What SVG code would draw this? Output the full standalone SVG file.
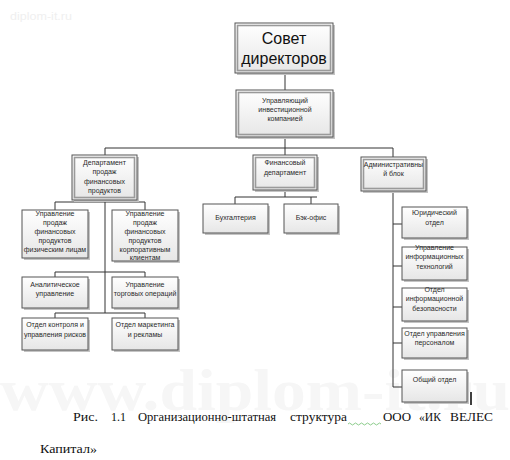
<svg xmlns="http://www.w3.org/2000/svg" width="510" height="460" viewBox="0 0 510 460">
<defs>
<linearGradient id="g" x1="0" y1="0" x2="0" y2="1">
<stop offset="0" stop-color="#ffffff"/>
<stop offset="1" stop-color="#e6e6e6"/>
</linearGradient>
<style>
.b{fill:url(#g);stroke:#555;stroke-width:1}
.sh{fill:#c4c4c4}
.in{fill:none;stroke:#9a9a9a;stroke-width:1.6}
.t{font-family:"Liberation Sans",Arial,sans-serif;font-size:7px;fill:#2a2a2a;text-anchor:middle}
.big{font-family:"Liberation Sans",Arial,sans-serif;font-size:16px;fill:#111;text-anchor:middle}
.cap{font-family:"Liberation Serif","Times New Roman",serif;font-size:13.5px;fill:#111}
.wm{font-family:"Liberation Serif",serif;font-weight:bold;fill:#f6f6f6}
.c{fill:none;stroke:#333;stroke-width:1}
</style>
</defs>
<rect width="510" height="460" fill="#fff"/>
<text class="wm" x="0" y="410" font-size="60" textLength="510" lengthAdjust="spacingAndGlyphs">www.diplom-it.ru</text>
<text x="10" y="20" font-family="Liberation Sans Narrow,Liberation Sans,sans-serif" font-size="11" fill="#efefef" textLength="62" lengthAdjust="spacingAndGlyphs">diplom-it.ru</text>

<g id="connectors">
<path class="c" d="M285 73V90M285 137V148M105 148H393M105 148V155M285 148V155M393 148V157"/>
<path class="c" d="M105 200V313M55 202H145M55 202V210M145 202V210M55 272H145M55 272V277M145 272V277M55 313H145M55 313V318M145 313V318"/>
<path class="c" d="M285 190V197M235 197H317M235 197V204M311 197V204"/>
<path class="c" d="M393 191V387M393 224H402M393 266H402M393 307H402M393 343H402M393 387H402"/>
</g>

<g id="n-board">
<rect class="sh" x="237" y="25" width="98" height="50"/>
<rect class="b" x="235" y="23" width="98" height="50"/>
<rect class="in" x="237.5" y="25.5" width="93" height="45"/>
<text class="big" x="284" y="44">Совет</text>
<text class="big" x="284" y="64">директоров</text>
</g>

<g id="n-ceo">
<rect class="sh" x="238" y="92" width="97" height="47"/>
<rect class="b" x="236" y="90" width="97" height="47"/>
<rect class="in" x="238.5" y="92.5" width="92" height="42"/>
<text class="t" x="285" y="103">Управляющий</text>
<text class="t" x="285" y="112">инвестиционной</text>
<text class="t" x="285" y="121">компанией</text>
</g>

<g id="n-sales">
<rect class="sh" x="74" y="157" width="65" height="45"/>
<rect class="b" x="72" y="155" width="65" height="45"/>
<rect class="in" x="74.5" y="157.5" width="60" height="40"/>
<text class="t" x="104.5" y="165">Департамент</text>
<text class="t" x="104.5" y="174">продаж</text>
<text class="t" x="104.5" y="183.5">финансовых</text>
<text class="t" x="104.5" y="193">продуктов</text>
</g>

<g id="n-fin">
<rect class="sh" x="255" y="157" width="64" height="35"/>
<rect class="b" x="253" y="155" width="64" height="35"/>
<rect class="in" x="255.5" y="157.5" width="59" height="30"/>
<text class="t" x="285" y="165">Финансовый</text>
<text class="t" x="285" y="175">департамент</text>
</g>

<g id="n-admin">
<rect class="sh" x="363" y="159" width="65" height="34"/>
<rect class="b" x="361" y="157" width="65" height="34"/>
<rect class="in" x="363.5" y="159.5" width="60" height="29"/>
<text class="t" x="393.5" y="167">Административны</text>
<text class="t" x="393.5" y="176">й блок</text>
</g>

<g id="n-retail">
<rect class="sh" x="24" y="212" width="66" height="48"/>
<rect class="b" x="22" y="210" width="66" height="48"/>
<text class="t" x="55" y="216">Управление</text>
<text class="t" x="55" y="225">продаж</text>
<text class="t" x="55" y="234">финансовых</text>
<text class="t" x="55" y="243">продуктов</text>
<text class="t" x="55" y="252">физическим лицам</text>
</g>

<g id="n-corp">
<rect class="sh" x="114" y="212" width="66" height="51"/>
<rect class="b" x="112" y="210" width="66" height="51"/>
<text class="t" x="145" y="216">Управление</text>
<text class="t" x="145" y="225">продаж</text>
<text class="t" x="145" y="234">финансовых</text>
<text class="t" x="145" y="243">продуктов</text>
<text class="t" x="145" y="252">корпоративным</text>
<text class="t" x="145" y="260">клиентам</text>
</g>

<g id="n-analytic">
<rect class="sh" x="24" y="279" width="66" height="31"/>
<rect class="b" x="22" y="277" width="66" height="31"/>
<text class="t" x="55" y="287">Аналитическое</text>
<text class="t" x="55" y="296">управление</text>
</g>

<g id="n-trade">
<rect class="sh" x="114" y="279" width="66" height="31"/>
<rect class="b" x="112" y="277" width="66" height="31"/>
<text class="t" x="145" y="287">Управление</text>
<text class="t" x="145" y="296">торговых операций</text>
</g>

<g id="n-risk">
<rect class="sh" x="24" y="320" width="66" height="32"/>
<rect class="b" x="22" y="318" width="66" height="32"/>
<text class="t" x="55" y="327">Отдел контроля и</text>
<text class="t" x="55" y="337">управления рисков</text>
</g>

<g id="n-marketing">
<rect class="sh" x="114" y="320" width="66" height="32"/>
<rect class="b" x="112" y="318" width="66" height="32"/>
<text class="t" x="145" y="327">Отдел маркетинга</text>
<text class="t" x="145" y="337">и рекламы</text>
</g>

<g id="n-accounting">
<rect class="sh" x="205" y="206" width="65" height="29"/>
<rect class="b" x="203" y="204" width="65" height="29"/>
<text class="t" x="235.5" y="220">Бухгалтерия</text>
</g>

<g id="n-backoffice">
<rect class="sh" x="286" y="206" width="54" height="29"/>
<rect class="b" x="284" y="204" width="54" height="29"/>
<text class="t" x="311" y="220">Бэк-офис</text>
</g>

<g id="n-legal">
<rect class="sh" x="404" y="209" width="65" height="31"/>
<rect class="b" x="402" y="207" width="65" height="31"/>
<text class="t" x="434.5" y="215">Юридический</text>
<text class="t" x="434.5" y="225">отдел</text>
</g>

<g id="n-it">
<rect class="sh" x="404" y="249" width="65" height="33"/>
<rect class="b" x="402" y="247" width="65" height="33"/>
<text class="t" x="434.5" y="250">Управление</text>
<text class="t" x="434.5" y="259">информационных</text>
<text class="t" x="434.5" y="269">технологий</text>
</g>

<g id="n-security">
<rect class="sh" x="404" y="290" width="65" height="33"/>
<rect class="b" x="402" y="288" width="65" height="33"/>
<text class="t" x="434.5" y="292">Отдел</text>
<text class="t" x="434.5" y="301">информационной</text>
<text class="t" x="434.5" y="311">безопасности</text>
</g>

<g id="n-hr">
<rect class="sh" x="404" y="330" width="65" height="30"/>
<rect class="b" x="402" y="328" width="65" height="30"/>
<text class="t" x="434.5" y="336">Отдел управления</text>
<text class="t" x="434.5" y="345">персоналом</text>
</g>

<g id="n-general">
<rect class="sh" x="404" y="372" width="65" height="32"/>
<rect class="b" x="402" y="370" width="65" height="32"/>
<text class="t" x="434.5" y="382">Общий отдел</text>
</g>
<path d="M471 392V405" stroke="#000" stroke-width="1.5"/>

<g id="caption">
<text class="cap" x="73" y="421" textLength="25" lengthAdjust="spacingAndGlyphs">Рис.</text>
<text class="cap" x="111" y="421" textLength="15" lengthAdjust="spacingAndGlyphs">1.1</text>
<text class="cap" x="138" y="421" textLength="138" lengthAdjust="spacingAndGlyphs">Организационно-штатная</text>
<text class="cap" x="290" y="421" textLength="57" lengthAdjust="spacingAndGlyphs">структура</text>
<text class="cap" x="383" y="421" textLength="28" lengthAdjust="spacingAndGlyphs">ООО</text>
<text class="cap" x="419" y="421" textLength="22" lengthAdjust="spacingAndGlyphs">«ИК</text>
<text class="cap" x="450" y="421" textLength="43" lengthAdjust="spacingAndGlyphs">ВЕЛЕС</text>
<text class="cap" x="40" y="453" textLength="57" lengthAdjust="spacingAndGlyphs">Капитал»</text>
<path d="M348 424q1.5-2 3 0t3 0t3 0t3 0t3 0t3 0t3 0t3 0t3 0t3 0t3 0" fill="none" stroke="#6fbf6f" stroke-width="0.8"/>
</g>
</svg>
